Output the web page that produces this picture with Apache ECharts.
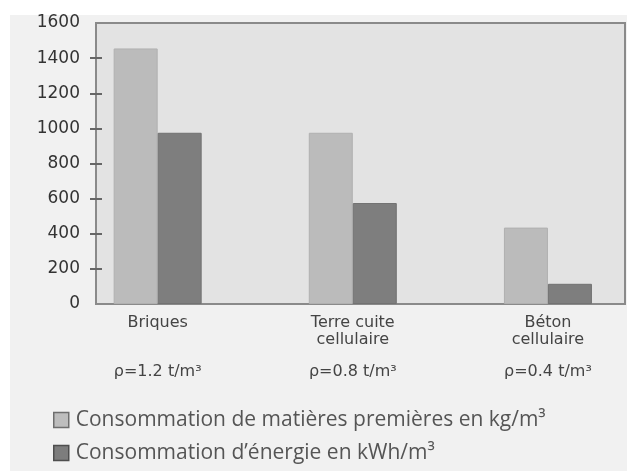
<!DOCTYPE html>
<html>
<head>
<meta charset="utf-8">
<script src="https://cdn.jsdelivr.net/npm/echarts@6/dist/echarts.min.js"></script>
<style>
html,body{margin:0;padding:0;background:#ffffff;}
#panel{position:absolute;left:10px;top:15px;width:617px;height:456px;background:#f1f1f1;}
#chart{position:absolute;left:0;top:0;width:627px;height:471px;}
</style>
</head>
<body>
<div id="panel"></div>
<div id="chart"></div>
<script>
// ---- data ----
var categories = ["Briques", "Terre cuite\ncellulaire", "Béton\ncellulaire"];
var densities = ["ρ=1.2 t/m³", "ρ=0.8 t/m³", "ρ=0.4 t/m³"];
var seriesNames = ["Consommation de matières premières en kg/m³", "Consommation d’énergie en kWh/m³"];
var rawMaterials = [1455, 975, 435];
var energy = [975, 575, 115];
var yTicks = [200, 400, 600, 800, 1000, 1200, 1400];
var yLabels = [0, 200, 400, 600, 800, 1000, 1200, 1400, 1600];

var positions = categories.map(function (c, i) { return i; });
function pairs(arr) { return arr.map(function (v, i) { return [positions[i], v]; }); }

var chart = echarts.init(document.getElementById('chart'), null, {renderer: 'canvas'});
var xMin = -0.316, xMax = 2.395;
var legendText = {fontFamily: 'Open Sans', fontSize: 21, lineHeight: 22, color: '#555', padding: [0, 0, 0, 2]};
var option = {
  backgroundColor: 'transparent',
  animation: false,
  grid: {
    left: 96, right: 2, top: 23, bottom: 167,
    show: true, backgroundColor: '#e3e3e3', borderColor: '#8a8a8a', borderWidth: 2
  },
  xAxis: [{
    type: 'value', min: xMin, max: xMax, position: 'bottom',
    axisLine: {show: true, onZero: false, lineStyle: {color: '#8a8a8a', width: 2}},
    axisTick: {show: false},
    splitLine: {show: false},
    axisLabel: {
      customValues: positions, margin: 10,
      fontFamily: 'DejaVu Sans', fontSize: 16, lineHeight: 17, color: '#444', align: 'center',
      formatter: function (v) { return categories[Math.round(v)]; }
    }
  }, {
    type: 'value', min: xMin, max: xMax, position: 'bottom',
    axisLine: {show: false, onZero: false}, axisTick: {show: false}, splitLine: {show: false},
    axisLabel: {
      customValues: positions, margin: 59,
      fontFamily: 'DejaVu Sans', fontSize: 16, lineHeight: 17, color: '#444',
      formatter: function (v) { return densities[Math.round(v)]; }
    }
  }],
  yAxis: [{
    type: 'value', min: 0, max: 1600, interval: 200, position: 'left',
    axisLine: {show: true, onZero: false, lineStyle: {color: '#8a8a8a', width: 2}},
    axisTick: {show: true, inside: false, length: 6, customValues: yTicks, lineStyle: {color: '#666', width: 2}},
    splitLine: {show: false},
    axisLabel: {customValues: yLabels, margin: 16, fontFamily: 'DejaVu Sans', fontSize: 17, color: '#333',
      formatter: function (v) { return String(v); }}
  }, {
    type: 'value', min: 0, max: 1600, interval: 200, position: 'left',
    axisLine: {show: false, onZero: false},
    axisTick: {show: true, inside: true, length: 6, customValues: yTicks, lineStyle: {color: '#666', width: 2}},
    splitLine: {show: false},
    axisLabel: {show: false}
  }],
  legend: [{
    orient: 'vertical', left: 48, top: 404,
    itemWidth: 15, itemHeight: 15, icon: 'rect', textStyle: legendText,
    data: [{name: seriesNames[0], itemStyle: {color: '#bdbdbd', borderColor: '#6e6e6e', borderWidth: 1.5}}]
  }, {
    orient: 'vertical', left: 48, top: 437,
    itemWidth: 15, itemHeight: 15, icon: 'rect', textStyle: legendText,
    data: [{name: seriesNames[1], itemStyle: {color: '#7d7d7d', borderColor: '#4e4e4e', borderWidth: 1.5}}]
  }],
  series: [{
    name: seriesNames[0], type: 'bar', xAxisIndex: 0, yAxisIndex: 0,
    barWidth: 44, barGap: '0%',
    itemStyle: {color: '#bbbbbb', borderColor: '#b0b0b0', borderWidth: 1},
    data: pairs(rawMaterials)
  }, {
    name: seriesNames[1], type: 'bar', xAxisIndex: 0, yAxisIndex: 0,
    barWidth: 44, barGap: '0%',
    itemStyle: {color: '#7e7e7e', borderColor: '#727272', borderWidth: 1},
    data: pairs(energy)
  }]
};
chart.setOption(option);
</script>
</body>
</html>
